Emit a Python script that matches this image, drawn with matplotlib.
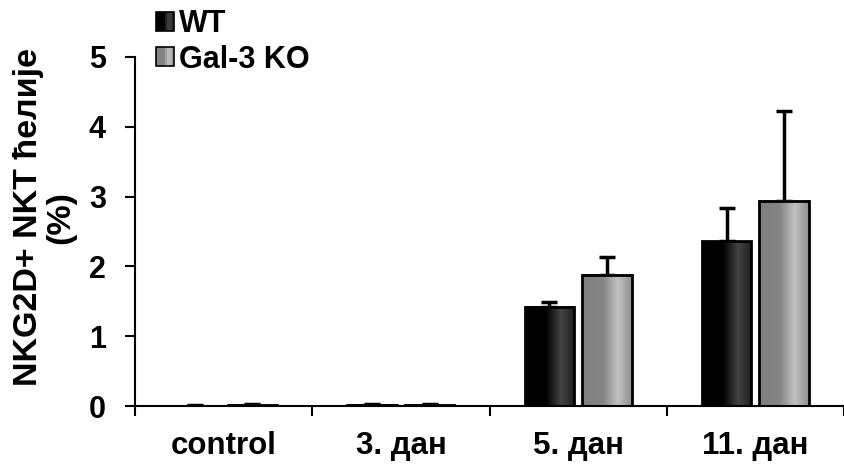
import numpy as np
import matplotlib
matplotlib.use("Agg")
import matplotlib.pyplot as plt
from matplotlib.patches import Rectangle
from matplotlib.legend_handler import HandlerBase

plt.rcParams['font.family'] = ['Liberation Sans', 'DejaVu Sans']
plt.rcParams['font.weight'] = 'bold'

categories = ["control", "3. дан", "5. дан", "11. дан"]
series_names = ["WT", "Gal-3 KO"]
wt_values = [0.005, 0.02, 1.42, 2.36]
wt_errors = [0.005, 0.01, 0.07, 0.48]
ko_values = [0.02, 0.02, 1.88, 2.94]
ko_errors = [0.005, 0.01, 0.25, 1.29]
y_ticks = [0, 1, 2, 3, 4, 5]
y_label = "NKG2D+ NKT ћелије\n(%)"

# gradient profiles (grey level across bar width)
prof_t = [0.0, 0.42, 0.72, 1.0]
wt_prof = [0.0, 0.0, 0.26, 0.12]
ko_prof = [0.50, 0.52, 0.76, 0.56]


def grad_row(prof, n=200):
    t = np.linspace(0, 1, n)
    g = np.interp(t, prof_t, prof)
    return np.dstack([g, g, g]).reshape(1, n, 3)


fig = plt.figure(figsize=(8.44, 4.68), dpi=100)
ax = fig.add_axes([135/844, 62/468, 1 - 135/844, (406-57)/468])

x = np.arange(len(categories))
w = 0.28
off = 0.162
ekw = dict(elinewidth=2.5, capthick=2.5, ecolor='black')
for vals, errs, prof, sign in [(wt_values, wt_errors, wt_prof, -1),
                               (ko_values, ko_errors, ko_prof, 1)]:
    bars = ax.bar(x + sign*off, vals, width=w, facecolor='none',
                  edgecolor='black', linewidth=2, zorder=3)
    ax.errorbar(x + sign*off, vals, yerr=[np.zeros(len(vals)), errs],
                fmt='none', capsize=6, zorder=2, **ekw)
    img = grad_row(prof)
    for b in bars:
        ax.imshow(img, extent=[b.get_x(), b.get_x()+b.get_width(), 0, b.get_height()],
                  aspect='auto', interpolation='bilinear', zorder=2.5)

ax.set_xlim(-0.5, 3.5 - 11/180)
ax.set_ylim(0, 5)
ax.set_yticks(y_ticks)
ax.set_yticklabels([str(v) for v in y_ticks], fontsize=22, fontweight='bold')
ax.set_xticks(np.arange(len(categories)+1) - 0.5)
ax.set_xticklabels([])
ax.set_xticks(x, minor=True)
ax.set_xticklabels(categories, minor=True, fontsize=22.5, fontweight='bold')
ax.tick_params(axis='x', which='minor', length=0, pad=18)
ax.tick_params(axis='both', which='major', length=7, width=1.5, direction='out')
ax.tick_params(axis='y', pad=14)
for s in ['top', 'right']:
    ax.spines[s].set_visible(False)
for s in ['left', 'bottom']:
    ax.spines[s].set_linewidth(1.5)

ax.set_ylabel(y_label, fontsize=24.5, fontweight='bold', linespacing=1.05)
ax.yaxis.set_label_coords((76-135)/709, (406-217)/349)


class GradHandler(HandlerBase):
    def __init__(self, prof):
        super().__init__()
        self.prof = prof

    def create_artists(self, legend, orig_handle, xdescent, ydescent, width,
                       height, fontsize, trans):
        n = 8
        arts = []
        g = np.interp((np.arange(n)+0.5)/n, prof_t, self.prof)
        for i in range(n):
            r = Rectangle((-xdescent + i*width/n, -ydescent), width/n, height,
                          facecolor=(g[i], g[i], g[i]), edgecolor='none',
                          transform=trans)
            arts.append(r)
        arts.append(Rectangle((-xdescent, -ydescent), width, height,
                              facecolor='none', edgecolor='black', linewidth=1.2,
                              transform=trans))
        return arts


h1 = Rectangle((0, 0), 1, 1)
h2 = Rectangle((0, 0), 1, 1)
fig.legend([h1, h2], series_names, loc='upper left',
           bbox_to_anchor=(144/844, 1 + 3/468), frameon=False,
           prop=dict(size=22, weight='bold'), handlelength=0.58, handleheight=0.58,
           handletextpad=0.15, labelspacing=0.18, borderaxespad=0,
           handler_map={h1: GradHandler(wt_prof), h2: GradHandler(ko_prof)})

fig.savefig("out.png", dpi=100)
